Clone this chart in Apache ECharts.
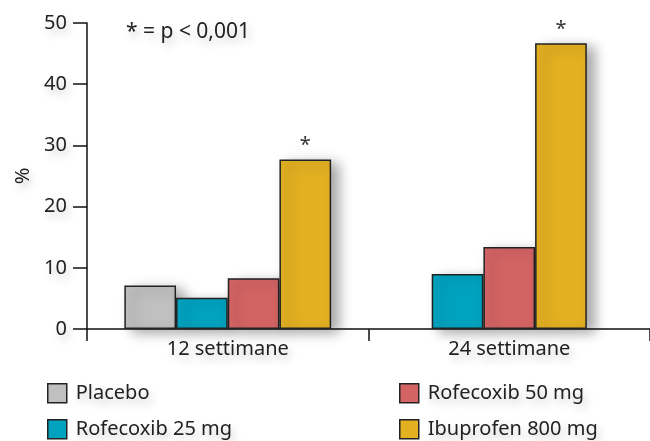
<!DOCTYPE html>
<html>
<head>
<meta charset="utf-8">
<script src="https://cdn.jsdelivr.net/npm/echarts@6/dist/echarts.min.js"></script>
<style>html,body{margin:0;padding:0;background:#fff;}#c{width:650px;height:441px;}</style>
</head>
<body>
<div id="c"></div>
<script>
const categories = ['12 settimane', '24 settimane'];
const seriesNames = ['Placebo', 'Rofecoxib 25 mg', 'Rofecoxib 50 mg', 'Ibuprofen 800 mg'];
const placebo = [7.1, null];
const rofecoxib25 = [5.1, 9.0];
const rofecoxib50 = [8.3, 13.4];
const ibuprofen = [27.7, 46.7];
const significant = [true, true];
const yTicks = [0, 10, 20, 30, 40, 50];
const noteText = '* = p < 0,001';

const colors = ['#c0c0c0', '#00a3bf', '#d46464', '#e3b022'];
const values = [placebo, rofecoxib25, rofecoxib50, ibuprofen];
const FONT = 'Noto Sans';
const TXT = '#222';
const textShadow = {textShadowColor: 'rgba(0,0,0,0.22)', textShadowBlur: 8, textShadowOffsetX: 3, textShadowOffsetY: 5};

const series = [];
categories.forEach((cat, ci) => {
  values.forEach((arr, si) => {
    if (arr[ci] === null) return;
    const data = categories.map((c, k) => k === ci ? arr[k] : '-');
    const isIbu = si === 3;
    series.push({
      name: seriesNames[si],
      type: 'bar',
      xAxisIndex: ci,
      yAxisIndex: 0,
      data: data,
      barWidth: 51.7,
      barGap: '0%',
      itemStyle: {
        color: colors[si],
        borderColor: '#222',
        borderWidth: 1.5,
        shadowColor: 'rgba(0,0,0,0.35)',
        shadowBlur: 12,
        shadowOffsetX: 8,
        shadowOffsetY: 4
      },
      label: {
        show: isIbu && significant[ci],
        position: 'top',
        distance: 4,
        formatter: '*',
        fontFamily: FONT,
        fontSize: 20,
        color: '#333'
      },
      emphasis: {disabled: true},
      animation: false
    });
  });
});

const axisLabelStyle = Object.assign({fontFamily: FONT, fontSize: 20, color: TXT}, textShadow);

// legend layout: two columns, two rows
const legendPos = [[47, 383], [47, 419], [399, 383], [399, 419]];
const legends = seriesNames.map((n, i) => ({
  data: [{name: n, icon: 'rect'}],
  orient: 'vertical',
  left: legendPos[i][0],
  top: legendPos[i][1],
  padding: 0,
  itemWidth: 19,
  itemHeight: 19,
  selectedMode: false,
  textStyle: Object.assign({fontFamily: FONT, fontSize: 20, color: TXT, padding: [0, 0, 0, 4]}, textShadow),
  itemStyle: {borderColor: '#222', borderWidth: 1.5, shadowBlur: 0, shadowOffsetX: 0, shadowOffsetY: 0}
}));

const option = {
  backgroundColor: '#fff',
  animation: false,
  grid: {left: 87, right: -5, top: 23, bottom: 112, containLabel: false},
  xAxis: [
    {
      type: 'category',
      data: categories,
      axisLine: {lineStyle: {color: '#111', width: 1.5}},
      axisTick: {show: true, length: 12, lineStyle: {color: '#111', width: 1.5}},
      axisLabel: Object.assign({margin: 10}, axisLabelStyle),
      splitLine: {show: false}
    },
    {
      type: 'category',
      data: categories,
      show: false,
      position: 'bottom'
    }
  ],
  yAxis: {
    type: 'value',
    min: yTicks[0],
    max: yTicks[yTicks.length - 1],
    interval: 10,
    name: '%',
    nameLocation: 'middle',
    nameRotate: 90,
    nameGap: 53,
    nameTextStyle: Object.assign({fontFamily: FONT, fontSize: 20, color: TXT}, textShadow),
    axisLine: {show: true, lineStyle: {color: '#111', width: 1.5}},
    axisTick: {show: true, length: 14, lineStyle: {color: '#111', width: 1.5}},
    axisLabel: Object.assign({margin: 20}, axisLabelStyle),
    splitLine: {show: false}
  },
  legend: legends,
  graphic: [
    {
      type: 'text',
      left: 126,
      top: 22,
      style: {
        text: noteText, fontFamily: FONT, fontSize: 21, fill: TXT,
        textShadowColor: 'rgba(0,0,0,0.22)', textShadowBlur: 8, textShadowOffsetX: 3, textShadowOffsetY: 5
      }
    }
  ],
  series: series
};

const chart = echarts.init(document.getElementById('c'), null, {renderer: 'canvas'});
chart.setOption(option);
</script>
</body>
</html>
